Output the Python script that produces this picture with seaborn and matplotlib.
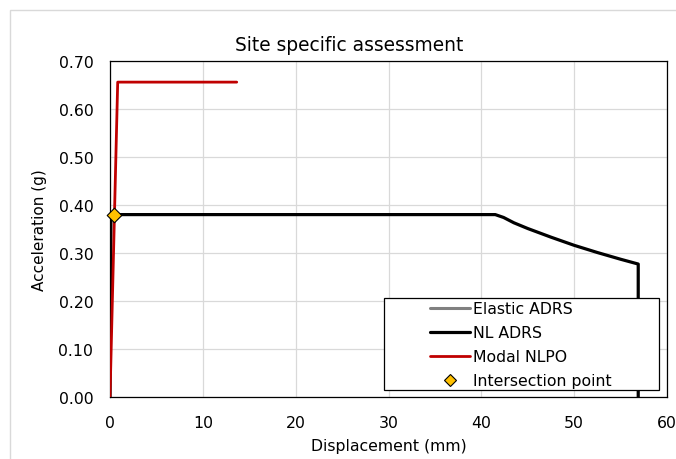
import matplotlib
matplotlib.use("Agg")
import matplotlib.pyplot as plt
from matplotlib.patches import Rectangle
from matplotlib.lines import Line2D
import seaborn as sns
import pandas as pd

# Elastic ADRS (no points inside the plotted range)
elastic_disp = []
elastic_acc = []

# Non-linear ADRS: displacement (mm) vs spectral acceleration (g)
nl_disp = [0.0, 0.1, 41.5, 42.4, 43.5, 45.0, 47.5, 50.0, 52.5, 55.0, 56.9, 56.9]
nl_acc = [0.0, 0.38, 0.380, 0.374, 0.363, 0.351, 0.333, 0.316, 0.301, 0.287, 0.277, 0.0]

# Modal non-linear pushover curve
nlpo_disp = [0.0, 0.83, 13.65]
nlpo_acc = [0.0, 0.656, 0.656]

# Performance point
ip_disp = [0.47]
ip_acc = [0.38]

x_ticks = [0, 10, 20, 30, 40, 50, 60]
y_ticks = [0.0, 0.1, 0.2, 0.3, 0.4, 0.5, 0.6, 0.7]

sns.set_style("white")
plt.rcParams["font.family"] = ["DejaVu Sans"]
plt.rcParams["text.color"] = "black"
plt.rcParams["axes.labelcolor"] = "black"

W, H = 676, 460
fig = plt.figure(figsize=(W / 100, H / 100), dpi=100)
ax = fig.add_axes([110 / W, 1 - 398 / H, 557 / W, 336 / H])

nl_df = pd.DataFrame({"disp": nl_disp, "acc": nl_acc})
nlpo_df = pd.DataFrame({"disp": nlpo_disp, "acc": nlpo_acc})
ip_df = pd.DataFrame({"disp": ip_disp, "acc": ip_acc})

ax.plot(elastic_disp, elastic_acc, color="#808080", lw=2.2)
sns.lineplot(data=nl_df, x="disp", y="acc", sort=False, estimator=None,
             color="black", lw=2.3, ax=ax, zorder=3)
sns.lineplot(data=nlpo_df, x="disp", y="acc", sort=False, estimator=None,
             color="#C00000", lw=2.0, ax=ax, zorder=3.5)
sns.scatterplot(data=ip_df, x="disp", y="acc", marker="D", s=55,
                color="#FFC000", edgecolor="black", linewidth=0.8,
                ax=ax, zorder=6, clip_on=False)

ax.set_xlim(0, 60)
ax.set_ylim(0, 0.70)
ax.set_xticks(x_ticks)
ax.set_yticks(y_ticks)
ax.set_xticklabels([str(v) for v in x_ticks])
ax.set_yticklabels([f"{v:.2f}" for v in y_ticks])
ax.tick_params(axis="both", length=0, labelsize=11.3, colors="black")
ax.tick_params(axis="x", pad=13)
ax.tick_params(axis="y", pad=12)

ax.grid(True, color="#d9d9d9", lw=0.9)
ax.set_axisbelow(True)
for sp in ax.spines.values():
    sp.set_color("black")
    sp.set_linewidth(0.9)

ax.set_xlabel("Displacement (mm)", fontsize=11.3, labelpad=6, color="black")
ax.set_ylabel("Acceleration (g)", fontsize=11.0, labelpad=8, color="black")
ax.set_title("Site specific assessment", fontsize=13.4, pad=8,
             x=(349 - 110) / 557, color="black")

# Legend box
ax.add_patch(Rectangle((384 / W, 1 - 391 / H), 275 / W, 92 / H,
                       transform=fig.transFigure, facecolor="white",
                       edgecolor="black", lw=0.9, zorder=4, clip_on=False))
handles = [
    Line2D([], [], color="#808080", lw=2.2),
    Line2D([], [], color="black", lw=2.3),
    Line2D([], [], color="#C00000", lw=2.0),
    Line2D([], [], marker="D", ls="none", markersize=6.5,
           markerfacecolor="#FFC000", markeredgecolor="black", mew=0.8),
]
labels = ["Elastic ADRS", "NL ADRS", "Modal NLPO", "Intersection point"]
leg = ax.legend(handles, labels, loc="upper left",
                bbox_to_anchor=(430 / W, 1 - 302 / H),
                bbox_transform=fig.transFigure, frameon=False,
                fontsize=11.3, handlelength=2.55, handletextpad=0.2,
                labelspacing=0.58, borderpad=0, borderaxespad=0,
                labelcolor="black")
leg.set_zorder(5)

# Chart area outline
fig.patches.append(Rectangle((10 / W, -0.1), 1.2, 1.1 - 11 / H,
                             transform=fig.transFigure, facecolor="none",
                             edgecolor="#d9d9d9", lw=1.0))

fig.savefig("out.png", dpi=100, facecolor="white")
